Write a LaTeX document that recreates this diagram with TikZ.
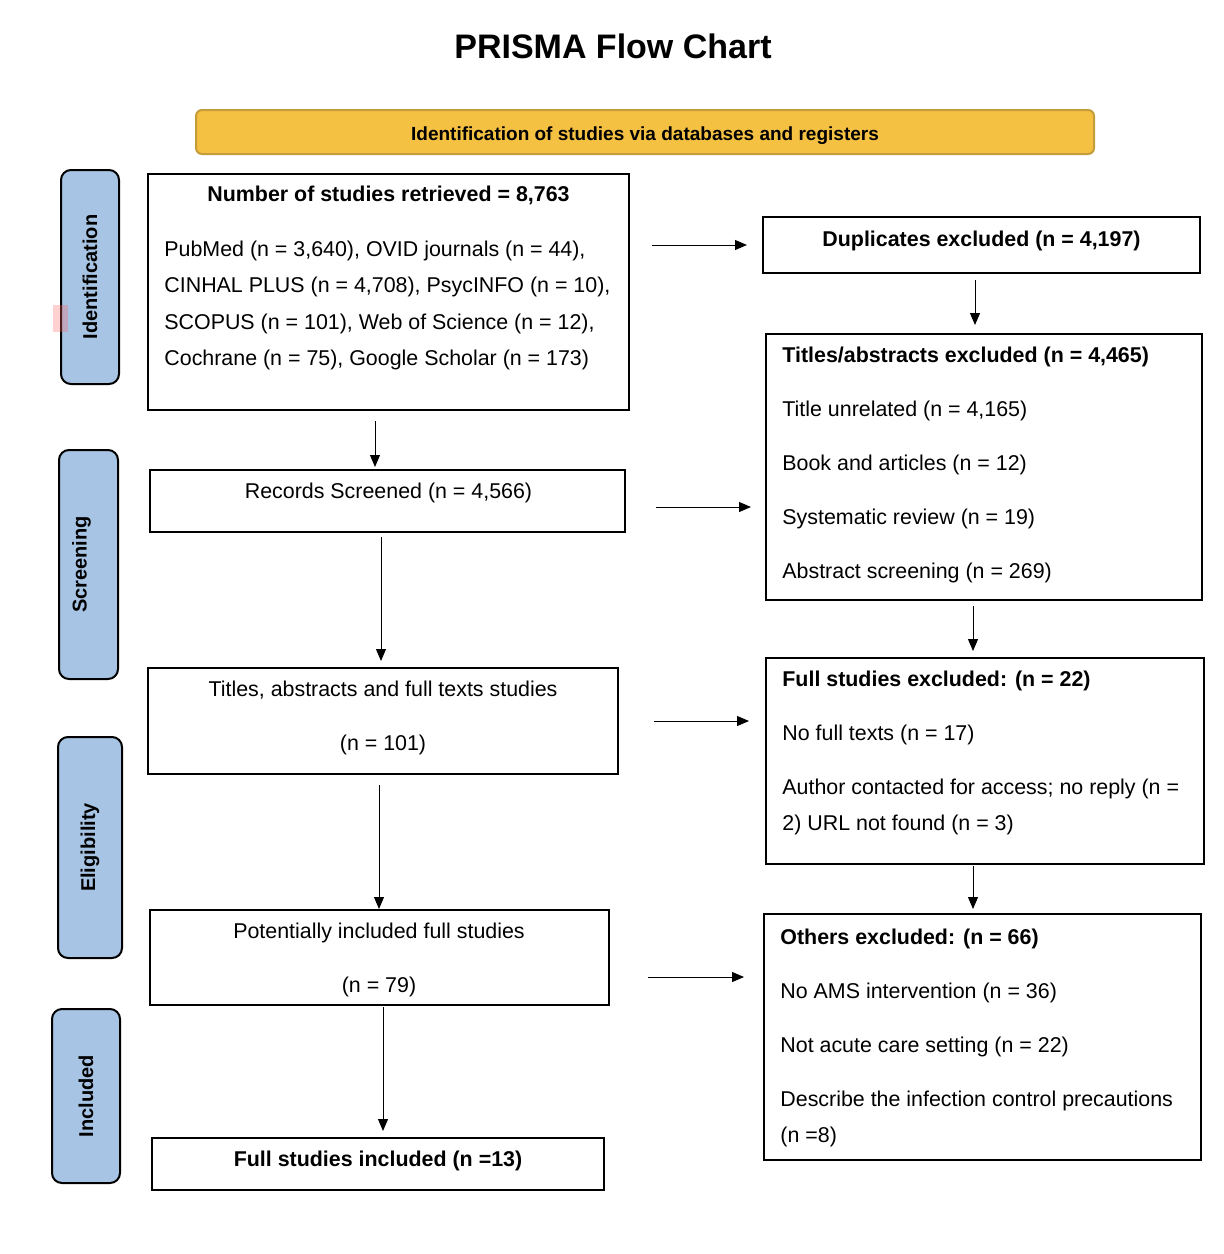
\documentclass[tikz,border=0pt]{standalone}
\usepackage{fontspec}
\setmainfont{Liberation Sans}
\usetikzlibrary{arrows.meta}
\definecolor{bannerfill}{RGB}{245,193,66}
\definecolor{bannerline}{RGB}{196,156,58}
\definecolor{stagefill}{RGB}{167,196,228}

\begin{document}
\begin{tikzpicture}[x=0.5pt,y=-0.5pt,
  box/.style={draw,line width=1pt,inner sep=0pt,outer sep=0pt,anchor=north west},
  stage/.style={draw,line width=1pt,fill=stagefill,rounded corners=5pt,rotate=90,inner sep=0pt,outer sep=0pt,font=\fontsize{10}{12}\selectfont\bfseries},
  txt/.style={inner sep=0pt,font=\fontsize{10.7}{18.3}\selectfont},
  head/.style={inner sep=0pt,font=\fontsize{10.7}{18.3}\selectfont\bfseries},
  arr/.style={-{Triangle[length=6pt,width=5pt]},line width=0.5pt}]
				\useasboundingbox (0,0) rectangle (1224,1254);
				\node[font=\fontsize{17}{20}\selectfont\bfseries] (title) at (613,46) {PRISMA Flow Chart};
				\node[draw=bannerline,fill=bannerfill,line width=1pt,rounded corners=3pt,minimum width=449pt,minimum height=22pt,inner sep=0pt,font=\fontsize{9.5}{11}\selectfont\bfseries] (banner) at (645,132) {\raisebox{-2pt}[\height][\depth]{Identification of studies via databases and registers}};
				% stages
				\node[stage,minimum width=107pt,minimum height=29pt] (identification) at (90,277) {Identification};
				\node[stage,minimum width=114.5pt,minimum height=29.5pt] (screening) at (88.5,564.5) {\raisebox{3.5pt}[\height][\depth]{Screening}};
				\node[stage,minimum width=110.5pt,minimum height=32pt] (eligibility) at (90,847.5) {Eligibility};
				\node[stage,minimum width=87pt,minimum height=34pt] (included) at (86,1096) {Included};
				\fill[red!60,opacity=0.3] (53,305) rectangle (68,332);
				% left column
				\node[box,minimum width=240.5pt,minimum height=118pt] (b1) at (148,174) {};
				\node[box,minimum width=237.5pt,minimum height=31pt] (b2) at (150,470) {};
				\node[box,minimum width=235pt,minimum height=53pt] (b3) at (148,668) {};
				\node[box,minimum width=229.5pt,minimum height=47.5pt] (b4) at (150,910) {};
				\node[box,minimum width=226pt,minimum height=26pt] (b5) at (152,1138) {};
				\node[head,anchor=base] (b1head) at (388.5,201) {Number of studies retrieved = 8,763};
				\node[txt,anchor=base west] (b1list) at (164,256) {\parbox[t]{230pt}{\raggedright PubMed (n = 3,640), OVID journals (n = 44),\\ CINHAL PLUS (n = 4,708), PsycINFO (n = 10),\\ SCOPUS (n = 101), Web of Science (n = 12),\\ Cochrane (n = 75), Google Scholar (n = 173)}};
				\node[txt,anchor=base] (b2text) at (388.5,498) {Records Screened (n = 4,566)};
				\node[txt,anchor=base] (b3text) at (383,696) {\parbox[t]{230pt}{\centering Titles, abstracts and full texts studies\\[8.7pt] (n = 101)}};
				\node[txt,anchor=base] (b4text) at (379,938) {\parbox[t]{225pt}{\centering Potentially included full studies\\[8.7pt] (n = 79)}};
				\node[head,anchor=base] (b5text) at (378,1166) {Full studies included (n =13)};
				% right column
				\node[box,minimum width=218.5pt,minimum height=28pt] (r1) at (763,217) {};
				\node[box,minimum width=218pt,minimum height=133pt] (r2) at (766,334) {};
				\node[box,minimum width=219pt,minimum height=103pt] (r3) at (766,658) {};
				\node[box,minimum width=218.5pt,minimum height=123pt] (r4) at (764,914) {};
				\node[head,anchor=base] (r1text) at (981.5,246) {Duplicates excluded (n = 4,197)};
				\node[txt,anchor=base west] (r2text) at (782,362) {\parbox[t]{230pt}{\raggedright\textbf{Titles/abstracts excluded (n = 4,465)}\\[8.7pt] Title unrelated (n = 4,165)\\[8.7pt] Book and articles (n = 12)\\[8.7pt] Systematic review (n = 19)\\[8.7pt] Abstract screening (n = 269)}};
				\node[txt,anchor=base west] (r3text) at (782,686) {\parbox[t]{230pt}{\raggedright\textbf{Full studies excluded: (n = 22)}\\[8.7pt] No full texts (n = 17)\\[8.7pt] Author contacted for access; no reply (n =\\ 2) URL not found (n = 3)}};
				\node[txt,anchor=base west] (r4text) at (780,944) {\parbox[t]{230pt}{\raggedright\textbf{Others excluded: (n = 66)}\\[8.7pt] No AMS intervention (n = 36)\\[8.7pt] Not acute care setting (n = 22)\\[8.7pt] Describe the infection control precautions\\ (n =8)}};
				% arrows
				\draw[arr,shorten <=11.5pt,shorten >=8pt] (b1.east |- r1.west) -- (r1.west);
				\draw[arr,shorten <=15.5pt,shorten >=7.5pt] ([yshift=-3pt]b2.east) -- ([yshift=-3pt]b2.east -| r2.west);
				\draw[arr,shorten <=18pt,shorten >=8.5pt] (b3.east) -- (b3.east -| r3.west);
				\draw[arr,shorten <=19.5pt,shorten >=10pt] ([yshift=-9.75pt]b4.east) -- ([yshift=-9.75pt]b4.east -| r4.west);
				\draw[arr,shorten <=5.5pt,shorten >=1.5pt] ([xshift=-6.75pt]b1.south) -- ([xshift=-6.75pt]b1.south |- b2.north);
				\draw[arr,shorten <=2.5pt,shorten >=3.5pt] ([xshift=-3.25pt]b2.south) -- ([xshift=-3.25pt]b2.south |- b3.north);
				\draw[arr,shorten <=5.5pt,shorten >=0.5pt] ([xshift=-2pt]b3.south) -- ([xshift=-2pt]b3.south |- b4.north);
				\draw[arr,shorten <=1pt,shorten >=3.5pt] ([xshift=1.75pt]b4.south) -- ([xshift=1.75pt]b4.south |- b5.north);
				\draw[arr,shorten <=3.5pt,shorten >=4.5pt] ([xshift=-3.25pt]r1.south) -- ([xshift=-3.25pt]r1.south |- r2.north);
				\draw[arr,shorten <=3pt,shorten >=3.5pt] ([xshift=-5.5pt]r2.south) -- ([xshift=-5.5pt]r2.south |- r3.north);
				\draw[arr,shorten <=1pt,shorten >=2.5pt] ([xshift=-6pt]r3.south) -- ([xshift=-6pt]r3.south |- r4.north);
			\end{tikzpicture}
\end{document}
